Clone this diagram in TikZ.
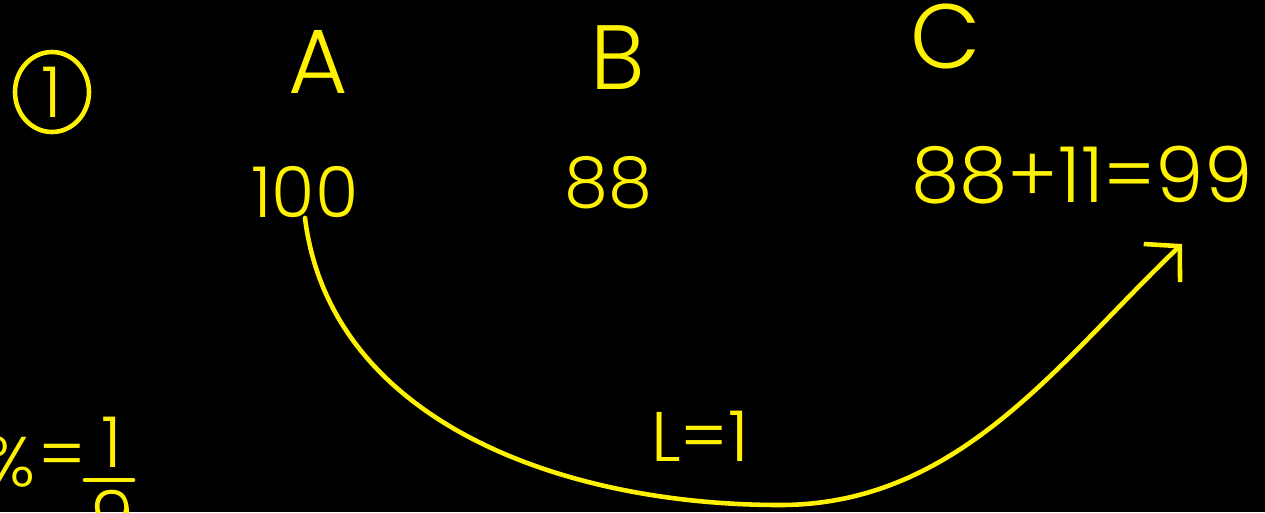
\documentclass[tikz,border=0pt]{standalone}
\usepackage{fontspec}
\setmainfont{Poppins}[UprightFont=* Light]
\usetikzlibrary{arrows.meta}

\begin{document}
\begin{tikzpicture}[x=0.02cm,y=-0.02cm,
	ink/.style={text=yellow,inner sep=0pt},
	letter/.style={ink,font=\fontsize{52}{60}\selectfont},
	digits/.style={ink,font=\fontsize{40}{48}\selectfont},
	pen/.style={draw=yellow,line width=2.6pt,line cap=round}]

	\fill[black] (0,0) rectangle (1265,512);
	\useasboundingbox (0,0) rectangle (1265,512);

	% step number
	\node[digits] (one) at (52,92) {1};
	\draw[pen] (one) ellipse [x radius=37, y radius=40];

	% columns
	\node[letter] (A) at (318,62) {A};
	\node[letter] (B) at (618,58) {B};
	\node[letter] (C) at (946,36) {C};

	\node[digits] (a) at (305,192) {100};
	\node[digits] (b) at (608,183) {88};
	\node[digits,font=\fontsize{44}{52}\selectfont] (c) at (1082,175) {88+11=99};

	% transfer
	\coordinate (tip) at (1182,244);
	\draw[pen,-{Straight Barb[length=14pt,width=30pt,line width=2.6pt]}]
		(a.south) .. controls (330,420) and (560,505) .. (780,505)
		.. controls (960,505) and (1060,360) .. (tip);
	\node[digits] (L) at (700,436) {L=1};

	% cut-off note
	\node[digits] (pct) at (10,462) {\%};
	\node[digits] (eq) at (62,462) {=};
	\node[digits] (num) at (112,442) {1};
	\node[digits] (den) at (112,516) {9};
	\draw[pen] (85,480) -- (133,480);

\end{tikzpicture}
\end{document}
